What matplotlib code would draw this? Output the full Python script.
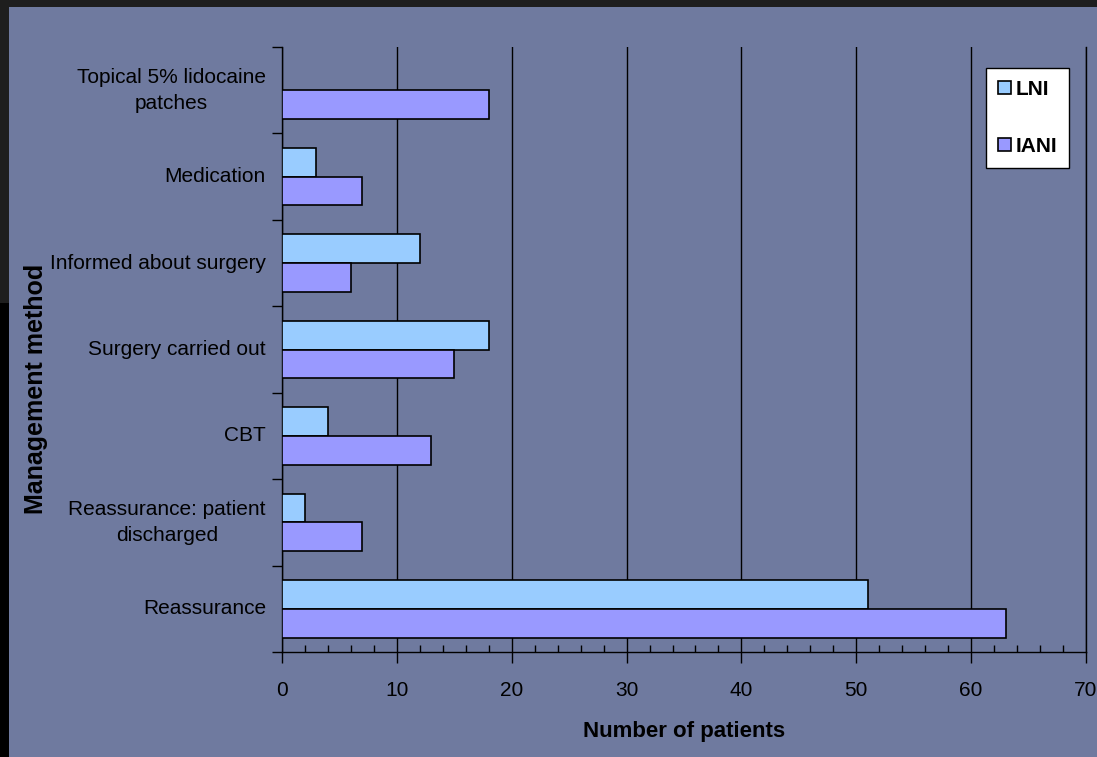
import matplotlib
matplotlib.use("Agg")
import matplotlib.pyplot as plt
from matplotlib.patches import Rectangle
from matplotlib.ticker import MultipleLocator
import numpy as np

plt.rcParams['font.family'] = ['Liberation Sans', 'DejaVu Sans']

categories = [
    "Reassurance",
    "Reassurance: patient\ndischarged",
    "CBT",
    "Surgery carried out",
    "Informed about surgery",
    "Medication",
    "Topical 5% lidocaine\npatches",
]
lni = [51, 2, 4, 18, 12, 3, 0]
iani = [63, 7, 13, 15, 6, 7, 18]
x_ticks = [0, 10, 20, 30, 40, 50, 60, 70]

W, H = 1097, 757
bg = '#6f7a9f'
fig = plt.figure(figsize=(W / 100, H / 100), dpi=100, facecolor='#1e1e1e')
# slate panel inside the dark frame
fig.patches.append(Rectangle((9 / W, 0), 1 - 9 / W, 1 - 7 / H, transform=fig.transFigure,
                             facecolor=bg, edgecolor='none', zorder=-10))
fig.patches.append(Rectangle((0, 0), 9 / W, 0.6, transform=fig.transFigure,
                             facecolor='black', edgecolor='none', zorder=-10))

left, right, top, bottom = 282, 1086, 47, 652
ax = fig.add_axes([left / W, 1 - bottom / H, (right - left) / W, (bottom - top) / H])
ax.set_facecolor(bg)

y = np.arange(len(categories))
h = 1 / 3
ax.barh(y + h / 2, lni, height=h, color='#99ccff', edgecolor='black', linewidth=1.2,
        label='LNI', zorder=3)
ax.barh(y - h / 2, iani, height=h, color='#9999ff', edgecolor='black', linewidth=1.2,
        label='IANI', zorder=3)

fs = 15
ax.set_xlim(0, 70)
ax.set_ylim(-0.5, len(categories) - 0.5)
ax.set_xticks(x_ticks)
ax.xaxis.set_minor_locator(MultipleLocator(2))
ax.tick_params(axis='x', which='major', direction='out', length=8, width=1, labelsize=fs,
               pad=13, colors='black')
ax.tick_params(axis='x', which='minor', direction='in', length=5, width=1)
ax.grid(axis='x', which='major', color='black', linewidth=1, zorder=1)

# category boundaries carry the ticks, names sit between them
ax.set_yticks(np.arange(len(categories) + 1) - 0.5)
ax.set_yticklabels([])
ax.tick_params(axis='y', which='major', direction='out', length=7, width=1)
for yi, name in zip(y, categories):
    ax.text(-0.020, yi, name, transform=ax.get_yaxis_transform(), ha='right', va='center',
            multialignment='center', fontsize=fs, color='black', linespacing=1.45)

ax.spines['top'].set_visible(False)
for s in ['left', 'bottom', 'right']:
    ax.spines[s].set_color('black')
    ax.spines[s].set_linewidth(1)

fig.text(684 / W, 1 - 732 / H, 'Number of patients', ha='center', va='center',
         fontsize=16, fontweight='bold')
fig.text(36 / W, 1 - 389 / H, 'Management method', rotation=90, ha='center', va='center',
         fontsize=18, fontweight='bold')

leg = ax.legend(loc='upper right', bbox_to_anchor=((1069 - left) / (right - left), 1 - (68 - top) / (bottom - top)),
                frameon=True, fancybox=False, framealpha=1, edgecolor='black',
                prop={'weight': 'bold', 'size': fs}, handlelength=0.6, handleheight=0.6,
                handletextpad=0.22, labelspacing=1.8, borderpad=0.58, borderaxespad=0)
leg.get_frame().set_linewidth(1)

fig.savefig('out.png', dpi=100, facecolor=fig.get_facecolor())
